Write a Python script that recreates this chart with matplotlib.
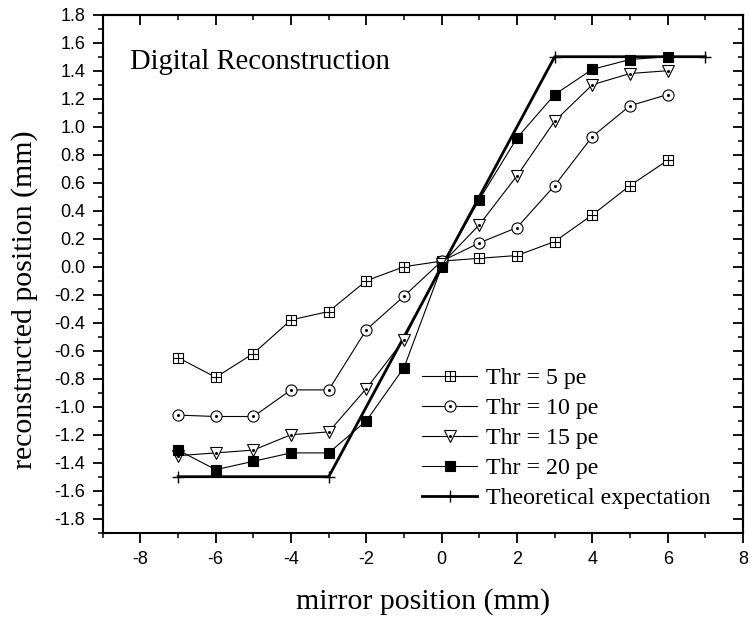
import numpy as np
import matplotlib
matplotlib.use("Agg")
import matplotlib.pyplot as plt
from matplotlib.path import Path
from matplotlib.ticker import MultipleLocator, FormatStrFormatter
from matplotlib.legend_handler import HandlerTuple

plt.rcParams["axes.unicode_minus"] = False

# mirror positions (mm)
mirror_pos = [-7, -6, -5, -4, -3, -2, -1, 0, 1, 2, 3, 4, 5, 6]

# reconstructed positions (mm) for each threshold
thr5 = [-0.65, -0.79, -0.62, -0.38, -0.32, -0.10, 0.00, 0.04, 0.06, 0.08, 0.18, 0.37, 0.58, 0.76]
thr10 = [-1.06, -1.07, -1.07, -0.88, -0.88, -0.45, -0.21, 0.04, 0.17, 0.28, 0.58, 0.93, 1.15, 1.23]
thr15 = [-1.35, -1.33, -1.31, -1.20, -1.18, -0.87, -0.52, 0.02, 0.30, 0.65, 1.04, 1.30, 1.38, 1.40]
thr20 = [-1.31, -1.45, -1.39, -1.33, -1.33, -1.10, -0.72, 0.00, 0.48, 0.92, 1.23, 1.41, 1.48, 1.50]

# theoretical expectation
theo_x = [-7, -3, 3, 7]
theo_y = [-1.5, -1.5, 1.5, 1.5]

labels = ["Thr = 5 pe", "Thr = 10 pe", "Thr = 15 pe", "Thr = 20 pe", "Theoretical expectation"]
x_ticks = [-8, -6, -4, -2, 0, 2, 4, 6, 8]

serif = ["Liberation Serif", "DejaVu Serif"]
sans = ["Liberation Sans", "DejaVu Sans"]

# square with an inner cross
box_plus = Path(
    [(-1, -1), (1, -1), (1, 1), (-1, 1), (-1, -1),
     (0, -1), (0, 1), (-1, 0), (1, 0)],
    [Path.MOVETO, Path.LINETO, Path.LINETO, Path.LINETO, Path.CLOSEPOLY,
     Path.MOVETO, Path.LINETO, Path.MOVETO, Path.LINETO],
)

fig = plt.figure(figsize=(7.5, 6.21), dpi=100)
ax = fig.add_axes([0.137, 0.1422, 0.8537, 0.8341])

lw = 0.8
ms = 8
common = dict(color="black", linewidth=lw, markeredgewidth=0.8)

h5, = ax.plot(mirror_pos, thr5, marker=box_plus, markersize=ms - 1,
              markerfacecolor="white", **common)

h10, = ax.plot(mirror_pos, thr10, marker="o", markersize=ms,
               markerfacecolor="white", **common)
d10, = ax.plot(mirror_pos, thr10, linestyle="none", marker="o",
               markersize=1.2, color="black")

h15, = ax.plot(mirror_pos, thr15, marker="v", markersize=ms + 1,
               markerfacecolor="white", **common)
d15, = ax.plot(mirror_pos, thr15, linestyle="none", marker="o",
               markersize=1.2, color="black")

h20, = ax.plot(mirror_pos, thr20, marker="s", markersize=ms - 0.5,
               markerfacecolor="black", **common)

ht, = ax.plot(theo_x, theo_y, color="black", linewidth=2.0,
              marker="+", markersize=9, markeredgewidth=1.0, zorder=1)

ax.set_xlim(-9, 8)
ax.set_ylim(-1.9, 1.8)

ax.xaxis.set_major_locator(plt.FixedLocator(x_ticks))
ax.xaxis.set_minor_locator(MultipleLocator(1))
ax.yaxis.set_major_locator(MultipleLocator(0.2))
ax.yaxis.set_minor_locator(MultipleLocator(0.1))
ax.yaxis.set_major_formatter(FormatStrFormatter("%.1f"))

for s in ax.spines.values():
    s.set_linewidth(1.5)

ax.tick_params(which="major", direction="out", length=7, width=1.3,
               labelsize=13, pad=5.5)
ax.tick_params(which="minor", direction="out", length=3.5, width=1.1)
ax.tick_params(axis="x", which="major", pad=6)
for lab in ax.get_xticklabels() + ax.get_yticklabels():
    lab.set_family(sans)

# inward ticks on the top and right edges
top = ax.secondary_xaxis("top")
top.xaxis.set_major_locator(plt.FixedLocator(x_ticks))
top.xaxis.set_minor_locator(MultipleLocator(1))
top.tick_params(which="major", direction="in", length=7, width=1.3, labeltop=False)
top.tick_params(which="minor", direction="in", length=3.5, width=1.1)
top.spines["top"].set_linewidth(1.5)

right = ax.secondary_yaxis("right")
right.yaxis.set_major_locator(MultipleLocator(0.2))
right.yaxis.set_minor_locator(MultipleLocator(0.1))
right.tick_params(which="major", direction="in", length=7, width=1.3, labelright=False)
right.tick_params(which="minor", direction="in", length=3.5, width=1.1)
right.spines["right"].set_linewidth(1.5)

ax.set_xlabel("mirror position (mm)", family=serif, fontsize=21.5)
ax.set_ylabel("reconstructed position (mm)", family=serif, fontsize=21.5)
ax.xaxis.set_label_coords(0.5, -0.107)
ax.yaxis.set_label_coords(-0.101, 0.449)

ax.text(0.0426, 0.895, "Digital Reconstruction", transform=ax.transAxes,
        family=serif, fontsize=20.6, va="baseline", ha="left")

leg = ax.legend(
    [h5, (h10, d10), (h15, d15), h20, ht], labels,
    handler_map={tuple: HandlerTuple(ndivide=1, pad=0)},
    loc="upper left", bbox_to_anchor=(0.4987, 0.3194), frameon=False,
    prop={"family": serif, "size": 17.2}, handlelength=2.3, numpoints=1,
    handletextpad=0.37, labelspacing=0.35, borderpad=0, borderaxespad=0,
)

fig.savefig("out.png", dpi=100)
